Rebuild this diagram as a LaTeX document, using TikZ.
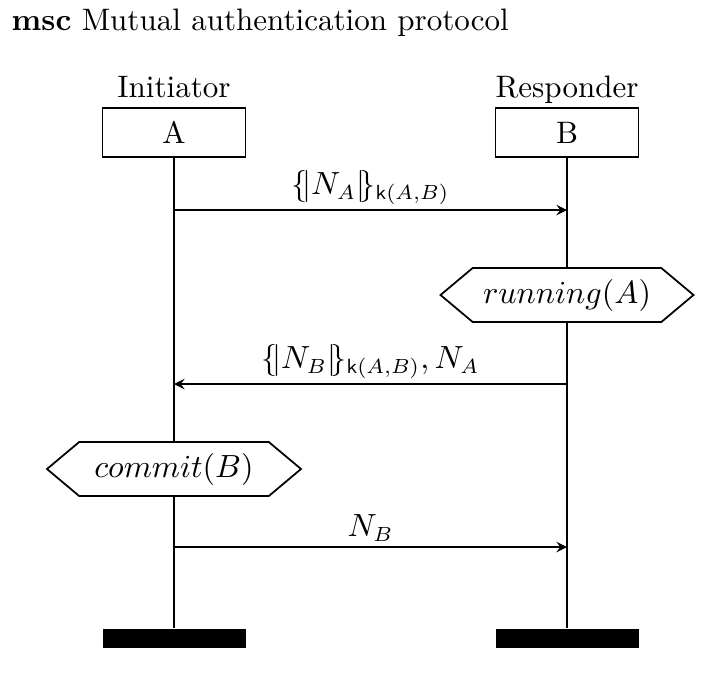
\documentclass[tikz,border=0pt]{standalone}
\usetikzlibrary{shapes.symbols}
\begin{document}
\begin{tikzpicture}[>=stealth, semithick, font=\fontsize{10.6pt}{13pt}\selectfont]
\useasboundingbox (0,0) rectangle (8.556,-8.244);
\node[anchor=base west, inner sep=0] (title) at (0.13,-0.36) {\textbf{msc} Mutual authentication protocol};
\node[anchor=base] (ia) at (2.088,-1.164) {Initiator};
\node[anchor=base] (ib) at (6.804,-1.164) {Responder};
\node[draw, minimum width=1.716cm, minimum height=0.588cm] (a) at (2.088,-1.59) {A};
\node[draw, minimum width=1.716cm, minimum height=0.588cm] (b) at (6.804,-1.59) {B};
\node[draw, shape=signal, signal to=west and east, signal pointer angle=80, minimum width=3.036cm, minimum height=0.648cm] (run) at (6.804,-3.54) {$running(A)$};
\node[draw, shape=signal, signal to=west and east, signal pointer angle=80, minimum width=3.048cm, minimum height=0.648cm] (commit) at (2.088,-5.628) {$commit(B)$};
\node[fill=black, minimum width=1.716cm, minimum height=0.228cm] (aend) at (2.088,-7.662) {};
\node[fill=black, minimum width=1.716cm, minimum height=0.228cm] (bend) at (6.804,-7.662) {};
\draw (a) -- (commit) -- (aend);
\draw (b) -- (run) -- (bend);
\coordinate (m1a) at (2.088,-2.52);
\coordinate (m1b) at (6.804,-2.52);
\coordinate (m2a) at (2.088,-4.608);
\coordinate (m2b) at (6.804,-4.608);
\coordinate (m3a) at (2.088,-6.564);
\coordinate (m3b) at (6.804,-6.564);
\draw[->] (m1a) -- node[above, inner sep=1.5pt] {$\{\!|N_A|\!\}_{\mathsf{k}(A,B)}$} (m1b);
\draw[->] (m2b) -- node[above, inner sep=1.5pt] {$\{\!|N_B|\!\}_{\mathsf{k}(A,B)}, N_A$} (m2a);
\draw[->] (m3a) -- node[above, inner sep=1.5pt] {$N_B$} (m3b);
\end{tikzpicture}
\end{document}
